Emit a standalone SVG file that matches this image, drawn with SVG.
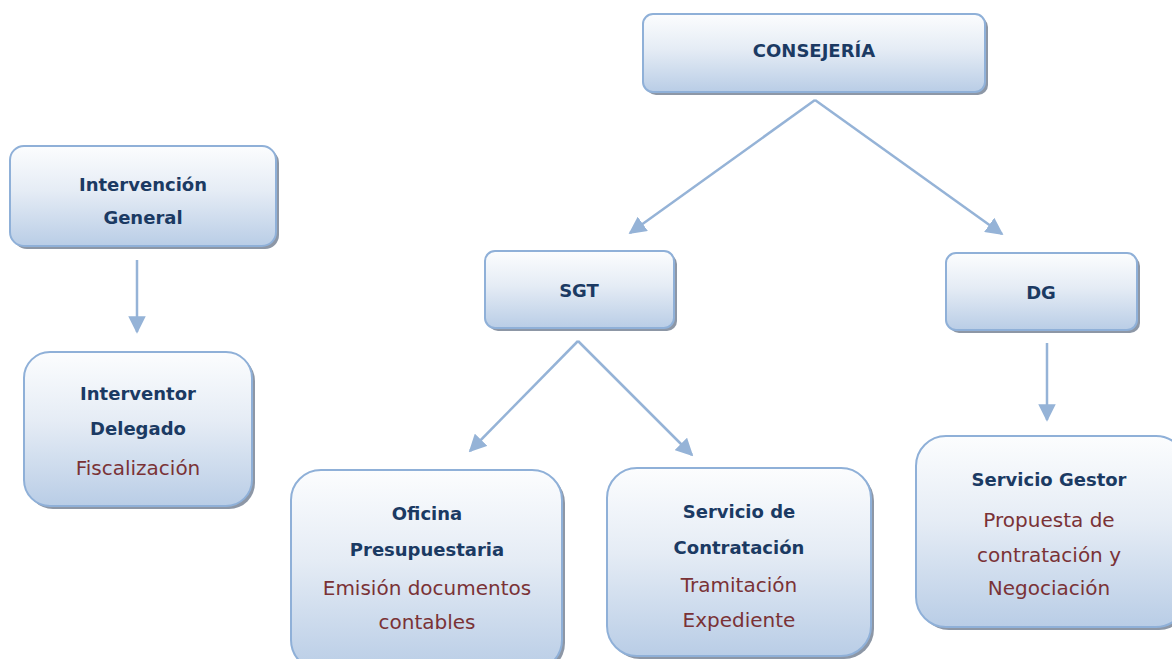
<svg xmlns="http://www.w3.org/2000/svg" width="1172" height="659" viewBox="0 0 1172 659">
<defs>
<linearGradient id="g" x1="0" y1="0" x2="0" y2="1">
<stop offset="0" stop-color="#fcfdfe"/>
<stop offset="0.45" stop-color="#e5ecf5"/>
<stop offset="1" stop-color="#b9cde6"/>
</linearGradient>
<marker id="ah" viewBox="0 0 10 10" refX="9" refY="5" markerWidth="7" markerHeight="7" markerUnits="strokeWidth" orient="auto">
<path d="M0,0 L10,5 L0,10 z" fill="#95b3d7"/>
</marker>
</defs>
<style>
.sh{fill:#8d97a6}
.bx{fill:url(#g);stroke:#8fb0d8;stroke-width:2}
.t{font-family:"DejaVu Sans",Verdana,sans-serif;font-weight:bold;font-size:18px;fill:#1b3a63;text-anchor:middle}
.r{font-family:"DejaVu Sans",Verdana,sans-serif;font-size:20px;fill:#7a3236;text-anchor:middle}
.c{stroke:#95b3d7;stroke-width:2.5;fill:none;marker-end:url(#ah)}
</style>
<rect width="1172" height="659" fill="#ffffff"/>
<g id="connectors">
<line class="c" x1="815" y1="100" x2="630" y2="233"/>
<line class="c" x1="815" y1="100" x2="1002" y2="234"/>
<line class="c" x1="578" y1="341" x2="470" y2="451"/>
<line class="c" x1="578" y1="341" x2="692" y2="455"/>
<line class="c" x1="137" y1="260" x2="137" y2="332"/>
<line class="c" x1="1047" y1="343" x2="1047" y2="420"/>
</g>
<g id="consejeria">
<rect class="sh" x="646" y="17" width="342" height="78" rx="10"/>
<rect class="bx" x="643" y="14" width="342" height="78" rx="10"/>
<text class="t" x="814" y="57">CONSEJERÍA</text>
</g>
<g id="intervencion-general">
<rect class="sh" x="13" y="149" width="266" height="100" rx="14"/>
<rect class="bx" x="10" y="146" width="266" height="100" rx="14"/>
<text class="t" x="143" y="191">Intervención</text>
<text class="t" x="143" y="224">General</text>
</g>
<g id="interventor-delegado">
<rect class="sh" x="27" y="355" width="228" height="154" rx="26"/>
<rect class="bx" x="24" y="352" width="228" height="154" rx="26"/>
<text class="t" x="138" y="400">Interventor</text>
<text class="t" x="138" y="435">Delegado</text>
<text class="r" x="138" y="475">Fiscalización</text>
</g>
<g id="sgt">
<rect class="sh" x="488" y="254" width="189" height="77" rx="10"/>
<rect class="bx" x="485" y="251" width="189" height="77" rx="10"/>
<text class="t" x="579" y="297">SGT</text>
</g>
<g id="dg">
<rect class="sh" x="949" y="256" width="191" height="77" rx="10"/>
<rect class="bx" x="946" y="253" width="191" height="77" rx="10"/>
<text class="t" x="1041" y="299">DG</text>
</g>
<g id="oficina-presupuestaria">
<rect class="sh" x="294" y="473" width="271" height="200" rx="30"/>
<rect class="bx" x="291" y="470" width="271" height="200" rx="30"/>
<text class="t" x="427" y="520">Oficina</text>
<text class="t" x="427" y="556">Presupuestaria</text>
<text class="r" x="427" y="595">Emisión documentos</text>
<text class="r" x="427" y="629">contables</text>
</g>
<g id="servicio-contratacion">
<rect class="sh" x="610" y="471" width="264" height="188" rx="30"/>
<rect class="bx" x="607" y="468" width="264" height="188" rx="30"/>
<text class="t" x="739" y="518">Servicio de</text>
<text class="t" x="739" y="554">Contratación</text>
<text class="r" x="739" y="592">Tramitación</text>
<text class="r" x="739" y="627">Expediente</text>
</g>
<g id="servicio-gestor">
<rect class="sh" x="919" y="439" width="270" height="191" rx="30"/>
<rect class="bx" x="916" y="436" width="270" height="191" rx="30"/>
<text class="t" x="1049" y="486">Servicio Gestor</text>
<text class="r" x="1049" y="527">Propuesta de</text>
<text class="r" x="1049" y="562">contratación y</text>
<text class="r" x="1049" y="595">Negociación</text>
</g>
</svg>
